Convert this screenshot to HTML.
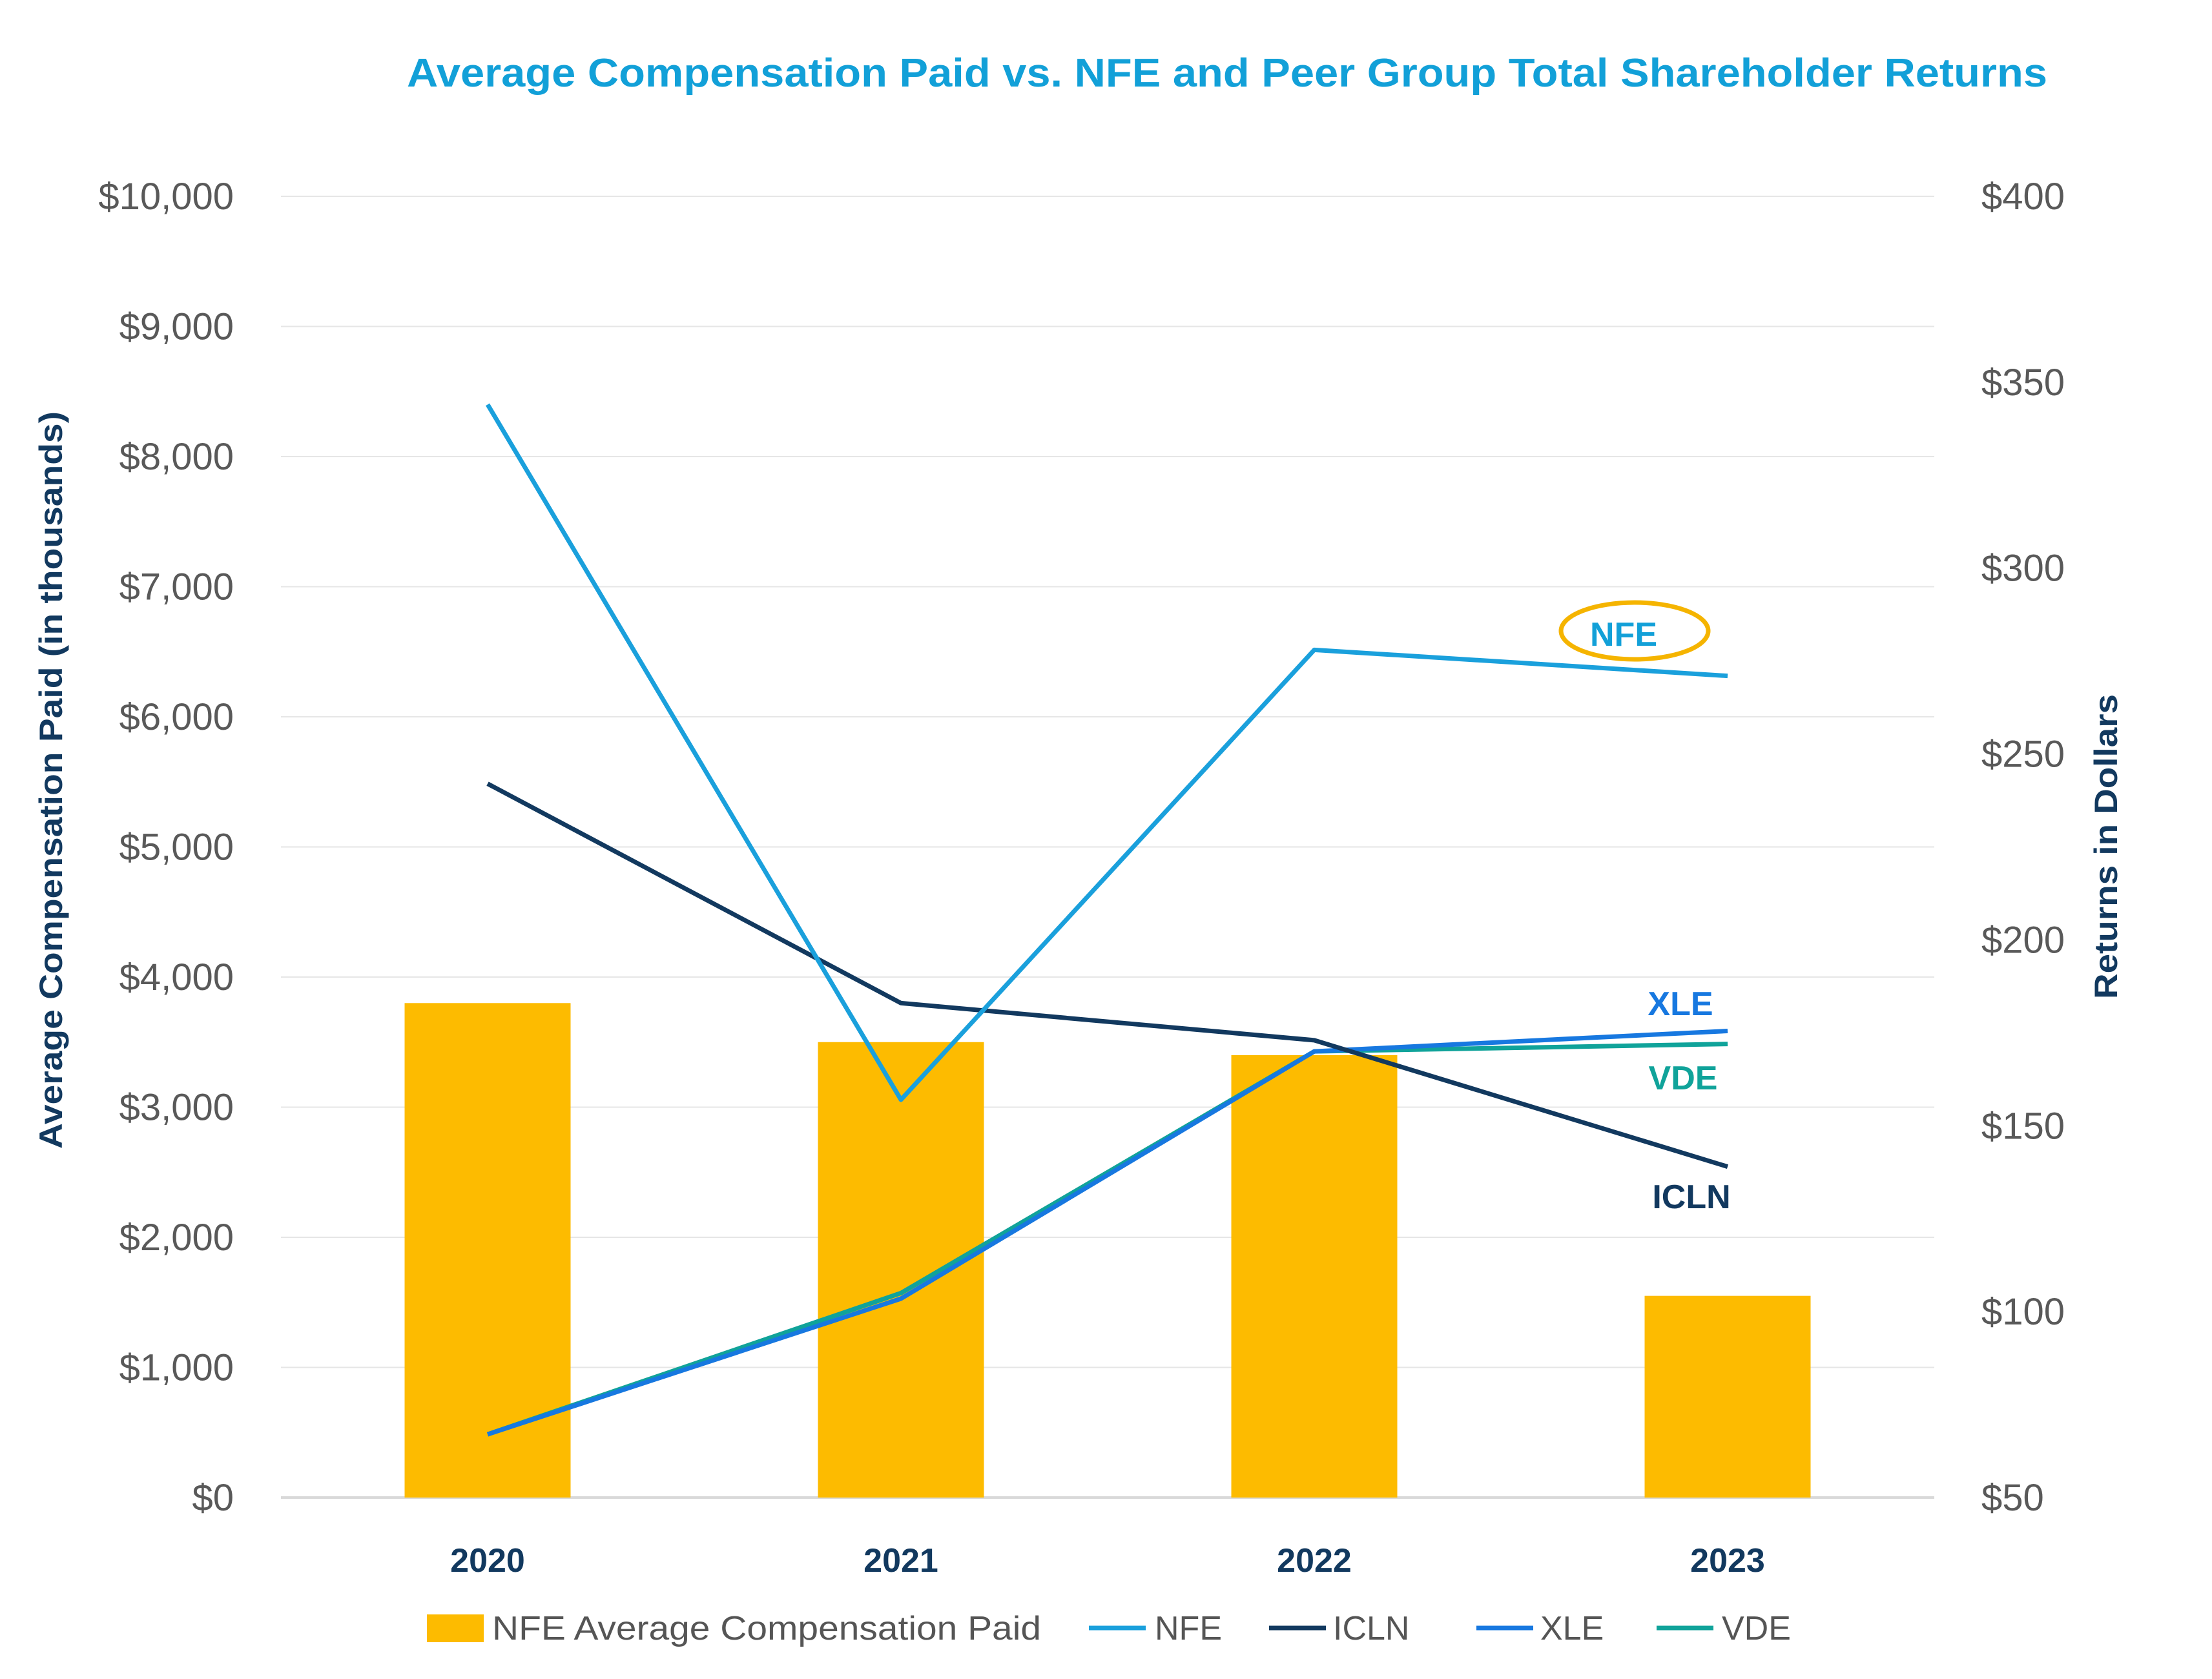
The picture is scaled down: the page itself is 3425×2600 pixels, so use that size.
<!DOCTYPE html>
<html><head><meta charset="utf-8"><style>
html,body{margin:0;padding:0;background:#fff;}
svg{display:block;font-family:"Liberation Sans",sans-serif;}
</style></head><body>
<svg id="chart" width="3425" height="2600" viewBox="0 0 3425 2600">
<text x="1900" y="134" text-anchor="middle" font-size="62" font-weight="bold" fill="#12a0d8" textLength="2540" lengthAdjust="spacingAndGlyphs">Average Compensation Paid vs. NFE and Peer Group Total Shareholder Returns</text>
<g id="grid"></g><g id="bars"></g><g id="lines"></g><g id="axes"></g>
<text transform="translate(96,1208) rotate(-90)" text-anchor="middle" font-size="50" font-weight="bold" fill="#12395f" textLength="1142" lengthAdjust="spacingAndGlyphs">Average  Compensation Paid (in thousands)</text>
<text transform="translate(3278,1311) rotate(-90)" text-anchor="middle" font-size="50" font-weight="bold" fill="#12395f" textLength="472" lengthAdjust="spacingAndGlyphs">Returns in Dollars</text>
<ellipse cx="2531" cy="977" rx="114" ry="44" fill="none" stroke="#f5b400" stroke-width="7"/>
<text x="2514" y="1000" text-anchor="middle" font-size="52" font-weight="bold" fill="#12a0d8">NFE</text>
<text x="2602" y="1572" text-anchor="middle" font-size="52" font-weight="bold" fill="#1778e0">XLE</text>
<text x="2606" y="1687" text-anchor="middle" font-size="52" font-weight="bold" fill="#10a39a">VDE</text>
<text x="2619" y="1871" text-anchor="middle" font-size="52" font-weight="bold" fill="#12395f">ICLN</text>
<g transform="translate(-4,-10)">
<rect x="665" y="2510" width="88" height="43" fill="#fdbb00"/>
<text x="766" y="2549" font-size="52" fill="#555" textLength="850" lengthAdjust="spacingAndGlyphs">NFE Average Compensation Paid</text>
<line x1="1690" y1="2531" x2="1778" y2="2531" stroke="#1aa0dc" stroke-width="7"/>
<text x="1792" y="2549" font-size="52" fill="#555">NFE</text>
<line x1="1969" y1="2531" x2="2057" y2="2531" stroke="#12395f" stroke-width="7"/>
<text x="2068" y="2549" font-size="52" fill="#555">ICLN</text>
<line x1="2290" y1="2531" x2="2378" y2="2531" stroke="#1778e0" stroke-width="7"/>
<text x="2389" y="2549" font-size="52" fill="#555">XLE</text>
<line x1="2569" y1="2531" x2="2657" y2="2531" stroke="#10a39a" stroke-width="7"/>
<text x="2670" y="2549" font-size="52" fill="#555">VDE</text>
</g>
</svg>
<script>
const categories = ["2020","2021","2022","2023"];
const compensation = [3800, 3500, 3400, 1550];
const nfe = [344, 157, 278, 271];
const icln = [242, 183, 173, 139];
const xle = [67, 103.5, 170, 175.5];
const vde = [67, 105, 170, 172];
const leftTicks = [0,1000,2000,3000,4000,5000,6000,7000,8000,9000,10000];
const rightTicks = [50,100,150,200,250,300,350,400];

const NS = "http://www.w3.org/2000/svg";
const X0 = 435, X1 = 2995, Y0 = 2319, Y1 = 304;
const band = (X1 - X0) / categories.length;
const xC = i => X0 + band * (i + 0.5);
const yL = v => Y0 - (v / 10000) * (Y0 - Y1);
const yR = v => Y0 - ((v - 50) / 350) * (Y0 - Y1);
function mk(tag, attrs, parent, txt) {
  const e = document.createElementNS(NS, tag);
  for (const k in attrs) e.setAttribute(k, attrs[k]);
  if (txt !== undefined) e.textContent = txt;
  document.getElementById(parent).appendChild(e);
  return e;
}
leftTicks.forEach(v => {
  const g = mk("line", {x1: X0, x2: X1, y1: yL(v), y2: yL(v), stroke: v === 0 ? "#d9d9d9" : "#e6e6e6", "stroke-width": v === 0 ? 4 : 2}, "grid");
  
  
  const t = mk("text", {x: 362, y: yL(v) + 20, "text-anchor": "end", "font-size": 58, fill: "#595959"}, "axes", "$" + v.toLocaleString("en-US"));
  
  
});
rightTicks.forEach(v => {
  const t = mk("text", {x: 3068, y: yR(v) + 20, "font-size": 58, fill: "#595959"}, "axes", "$" + v);
  
  
});
categories.forEach((c, i) => {
  const t = mk("text", {x: xC(i), y: 2434, "text-anchor": "middle", "font-size": 52, "font-weight": "bold", fill: "#12395f"}, "axes", c);
  
  
  const bw = 257;
  const r = mk("rect", {x: xC(i) - bw / 2, y: yL(compensation[i]), width: bw, height: Y0 - yL(compensation[i]), fill: "#fdbb00"}, "bars");
  
  
});
[[vde, "#10a39a", "vde"], [xle, "#1778e0", "xle"], [icln, "#12395f", "icln"], [nfe, "#1aa0dc", "nfe"]].forEach(([d, col, n]) => {
  const p = mk("polyline", {points: d.map((v, i) => xC(i) + "," + yR(v)).join(" "), fill: "none", stroke: col, "stroke-width": 7, "stroke-linejoin": "round"}, "lines");
  
  
});
</script>
</body></html>
